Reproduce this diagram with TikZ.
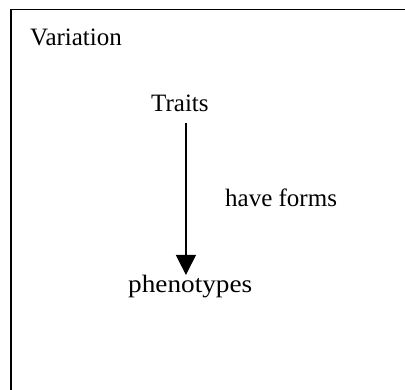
\documentclass[tikz,border=0pt]{standalone}
\usepackage{fontspec}
\setmainfont{Liberation Serif}
\usetikzlibrary{arrows.meta,calc}
\begin{document}
\begin{tikzpicture}[x=1pt,y=1pt,
  lbl/.style={anchor=base west,inner sep=0pt,font=\fontsize{25}{29}\selectfont},
  frame/.style={line width=1.3pt},
  conn/.style={line width=1.3pt,-{Triangle[width=20pt,length=20pt]}}]
\useasboundingbox (0,0) rectangle (405,-389);
\coordinate (fTR) at (410,-9.5);
\coordinate (fTL) at (11,-9.5);
\coordinate (fBL) at (11,-395);
\draw[frame] (fTR) -- (fTL) -- (fBL);
\node[lbl] (var) at (30,-45.5) {Variation};
\node[lbl] (traits) at (151,-111.7) {Traits};
\node[lbl] (forms) at (225,-206.7) {have forms};
\node[lbl] (phen) at (128,-292) {\scalebox{1.09}[1]{phenotypes}};
\coordinate (aS) at ($(traits.south)+(6,-11)$);
\coordinate (aE0) at ($(phen.north)+(0,-0.5)$);
\draw[conn] (aS) -- (aE0 -| aS);
\end{tikzpicture}
\end{document}
